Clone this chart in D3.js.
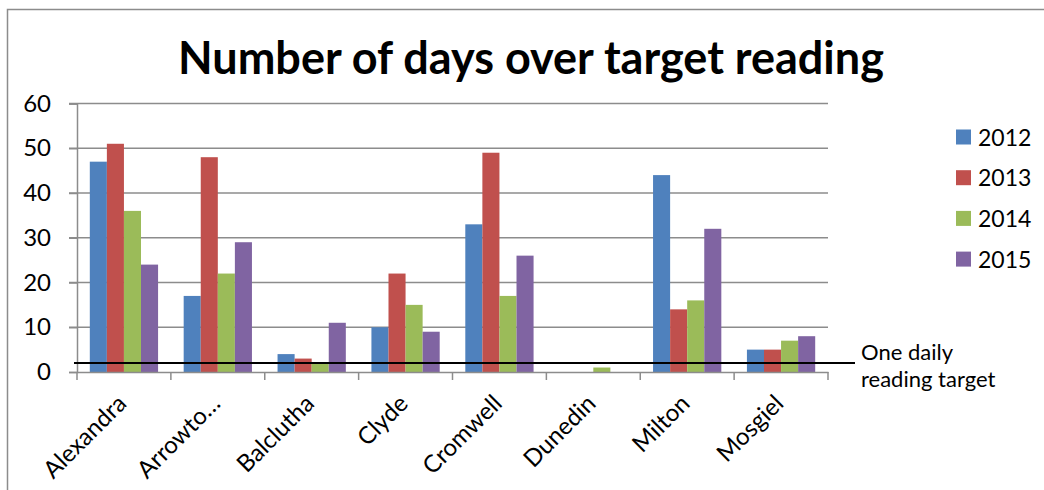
<!DOCTYPE html>
<html>
<head>
<meta charset="utf-8">
<script src="https://cdn.jsdelivr.net/npm/d3@7"></script>
<style>
  html, body { margin: 0; padding: 0; background: #fff; }
  svg { display: block; font-family: Lato, "Open Sans", sans-serif; }
</style>
</head>
<body>
<div id="chart"></div>
<script>
// Sites along the x axis
var SITES = ["Alexandra", "Arrowto\u2026", "Balclutha", "Clyde", "Cromwell", "Dunedin", "Milton", "Mosgiel"];
var YEARS = ["2012", "2013", "2014", "2015"];
var COLORS = ["#4f81bd", "#c0504d", "#9bbb59", "#8064a2"];

// days over target, one array per year, in SITES order
var DAYS_2012 = [47, 17, 4, 10, 33, 0, 44, 5];
var DAYS_2013 = [51, 48, 3, 22, 49, 0, 14, 5];
var DAYS_2014 = [36, 22, 2, 15, 17, 1, 16, 7];
var DAYS_2015 = [24, 29, 11, 9, 26, 0, 32, 8];

var Y_TICKS = [0, 10, 20, 30, 40, 50, 60];
var TARGET = 2;
var TARGET_LABEL = ["One daily", "reading target"];
var TITLE = "Number of days over target reading";

var W = 1044, H = 490;
var plot = { left: 77, right: 828, top: 103.5, bottom: 372 };
var gridColor = "#8c8c8c";

var svg = d3.select("#chart").append("svg")
  .attr("width", W).attr("height", H);

// outer chart border (runs off the right and bottom edges)
svg.append("rect")
  .attr("x", 7.5).attr("y", 9.5)
  .attr("width", W + 10).attr("height", H + 10)
  .attr("fill", "#fff")
  .attr("stroke", gridColor).attr("stroke-width", 1.5);

// title
svg.append("text")
  .attr("x", 531).attr("y", 74)
  .attr("text-anchor", "middle")
  .attr("font-size", "45px")
  .attr("font-weight", "bold")
  .attr("fill", "#000")
  .text(TITLE);

var y = d3.scaleLinear().domain([0, 60]).range([plot.bottom, plot.top]);
var x0 = d3.scaleBand().domain(SITES).range([plot.left, plot.right]).padding(0);
var x1 = d3.scaleBand().domain(YEARS).range([0, x0.bandwidth()])
  .paddingInner(0).paddingOuter(0.75);

// gridlines
svg.append("g").selectAll("line")
  .data(Y_TICKS.filter(function(d) { return d > 0; }))
  .enter().append("line")
  .attr("x1", plot.left - 8).attr("x2", plot.right)
  .attr("y1", function(d) { return y(d); })
  .attr("y2", function(d) { return y(d); })
  .attr("stroke", gridColor).attr("stroke-width", 1.5);

// y axis
var yAxis = svg.append("g")
  .attr("transform", "translate(" + plot.left + ",0)")
  .call(d3.axisLeft(y).tickValues(Y_TICKS).tickSize(8).tickPadding(18));
yAxis.select(".domain").attr("stroke", gridColor).attr("stroke-width", 1.5);
yAxis.selectAll(".tick line").attr("stroke", gridColor).attr("stroke-width", 1.5);
yAxis.selectAll(".tick text")
  .attr("font-size", "24px").attr("font-family", "Lato, sans-serif").attr("fill", "#000");

// bars
var series = [DAYS_2012, DAYS_2013, DAYS_2014, DAYS_2015];
series.forEach(function(vals, i) {
  svg.append("g").selectAll("rect")
    .data(vals)
    .enter().append("rect")
    .attr("x", function(d, j) { return x0(SITES[j]) + x1(YEARS[i]); })
    .attr("width", x1.bandwidth())
    .attr("y", function(d) { return y(d); })
    .attr("height", function(d) { return y(0) - y(d); })
    .attr("fill", COLORS[i]);
});

// x axis
var xAxis = svg.append("g")
  .attr("transform", "translate(0," + plot.bottom + ")")
  .call(d3.axisBottom(x0).tickSize(0).tickFormat(""));
xAxis.select(".domain").attr("stroke", gridColor).attr("stroke-width", 1.5);

// category boundary ticks
svg.append("g").selectAll("line")
  .data(d3.range(SITES.length + 1))
  .enter().append("line")
  .attr("x1", function(i) { return plot.left + i * x0.step(); })
  .attr("x2", function(i) { return plot.left + i * x0.step(); })
  .attr("y1", plot.bottom).attr("y2", plot.bottom + 8)
  .attr("stroke", gridColor).attr("stroke-width", 1.5);

// rotated category labels
svg.append("g").selectAll("text")
  .data(SITES)
  .enter().append("text")
  .attr("transform", function(d) {
    var cx = x0(d) + x0.bandwidth() / 2 + 4;
    return "translate(" + cx + "," + (plot.bottom + 33) + ") rotate(-45)";
  })
  .attr("text-anchor", "end")
  .attr("font-size", "24px")
  .attr("fill", "#000")
  .text(function(d) { return d; });

// target line
svg.append("line")
  .attr("x1", plot.left - 3).attr("x2", 855)
  .attr("y1", y(TARGET)).attr("y2", y(TARGET))
  .attr("stroke", "#000").attr("stroke-width", 2);

svg.append("g").selectAll("text")
  .data(TARGET_LABEL)
  .enter().append("text")
  .attr("x", 861)
  .attr("y", function(d, i) { return 360 + i * 27; })
  .attr("font-size", "22px")
  .attr("fill", "#000")
  .text(function(d) { return d; });

// legend
var legend = svg.append("g").selectAll("g")
  .data(YEARS)
  .enter().append("g")
  .attr("transform", function(d, i) { return "translate(956," + (137 + i * 40.7) + ")"; });
legend.append("rect")
  .attr("x", 0).attr("y", -7.5)
  .attr("width", 15).attr("height", 15)
  .attr("fill", function(d, i) { return COLORS[i]; });
legend.append("text")
  .attr("x", 22).attr("y", 8.5)
  .attr("font-size", "23px")
  .attr("fill", "#000")
  .text(function(d) { return d; });
</script>
</body>
</html>
